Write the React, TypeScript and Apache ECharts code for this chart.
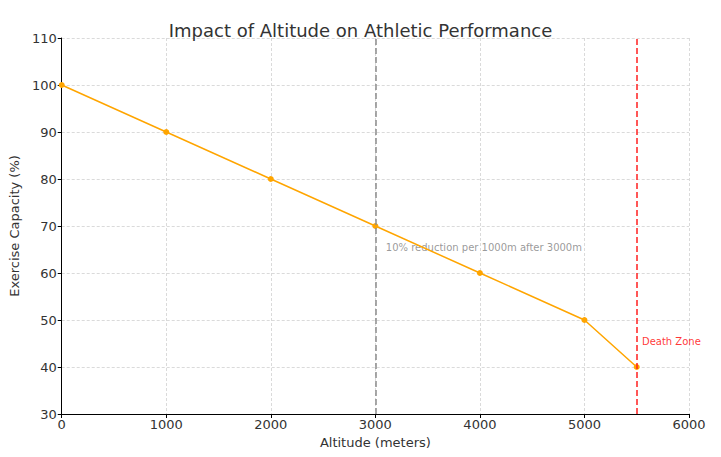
import { useEffect, useRef } from 'react';
import * as echarts from 'echarts';

const altitudes = [0, 1000, 2000, 3000, 4000, 5000, 5500];
const capacity = [100, 90, 80, 70, 60, 50, 40];
const thresholdAltitude = 3000;
const deathZoneAltitude = 5500;
const notes: { x: number; y: number; text: string; color: string }[] = [
  { x: 3100, y: 65.5, text: '10% reduction per 1000m after 3000m', color: '#7f7f7f' },
  { x: 5550, y: 45.5, text: 'Death Zone', color: '#ff0000' },
];

const FONT = '"DejaVu Sans", sans-serif';

export default function App() {
  const chartRef = useRef<HTMLDivElement>(null);

  useEffect(() => {
    if (!chartRef.current) return;
    const chart = echarts.init(chartRef.current, undefined, { renderer: 'svg' });

    const gridLine = { show: true, lineStyle: { color: '#d0d0d0', type: [3, 2] as number[], width: 0.8 } };
    const plain = (v: number) => String(v);

    chart.setOption({
      animation: false,
      textStyle: { fontFamily: FONT },
      title: {
        text: 'Impact of Altitude on Athletic Performance',
        left: 'center',
        top: 16,
        textStyle: { fontSize: 18, fontWeight: 'normal', color: '#333', fontFamily: FONT },
      },
      grid: { left: 59, right: 32, top: 38, bottom: 43, containLabel: false },
      xAxis: {
        type: 'value',
        min: 0,
        max: 6000,
        interval: 1000,
        name: 'Altitude (meters)',
        nameLocation: 'middle',
        nameGap: 22,
        nameTextStyle: { fontSize: 13, color: '#333', fontFamily: FONT },
        axisLine: { show: true, onZero: false, lineStyle: { color: '#000', width: 1 } },
        axisTick: { show: true, length: 4, lineStyle: { color: '#000' } },
        axisLabel: { fontSize: 13, color: '#333', margin: 4, fontFamily: FONT, formatter: plain },
        splitLine: gridLine,
      },
      yAxis: {
        type: 'value',
        min: 30,
        max: 110,
        interval: 10,
        name: 'Exercise Capacity (%)',
        nameLocation: 'middle',
        nameGap: 35,
        nameTextStyle: { fontSize: 13, color: '#333', fontFamily: FONT },
        axisLine: { show: true, onZero: false, lineStyle: { color: '#000', width: 1 } },
        axisTick: { show: true, length: 4, lineStyle: { color: '#000' } },
        axisLabel: { fontSize: 13, color: '#333', margin: 5, fontFamily: FONT, formatter: plain },
        splitLine: gridLine,
      },
      series: [
        {
          type: 'line',
          data: altitudes.map((a, i) => [a, capacity[i]]),
          symbol: 'circle',
          symbolSize: 6,
          itemStyle: { color: '#FFA500' },
          lineStyle: { color: '#FFA500', width: 1.5 },
          markLine: {
            silent: true,
            symbol: ['none', 'none'],
            label: { show: false },
            data: [
              { xAxis: thresholdAltitude, lineStyle: { color: '#8c8c8c', type: [6, 3], width: 1.5 } },
              { xAxis: deathZoneAltitude, lineStyle: { color: '#ff2020', type: [6, 3], width: 1.5 } },
            ],
          },
          z: 3,
        },
        ...notes.map((n) => ({
          type: 'scatter',
          data: [[n.x, n.y]],
          symbolSize: 0,
          silent: true,
          label: {
            show: true,
            position: [0, 0],
            align: 'left',
            verticalAlign: 'middle',
            formatter: n.text,
            fontSize: 10,
            color: n.color,
            fontFamily: FONT,
          },
        })),
      ],
    } as echarts.EChartsOption);

    return () => chart.dispose();
  }, []);

  return (
    <div
      ref={chartRef}
      style={{ position: 'fixed', left: 0, top: 0, width: 721, height: 457, background: '#fff' }}
    />
  );
}
